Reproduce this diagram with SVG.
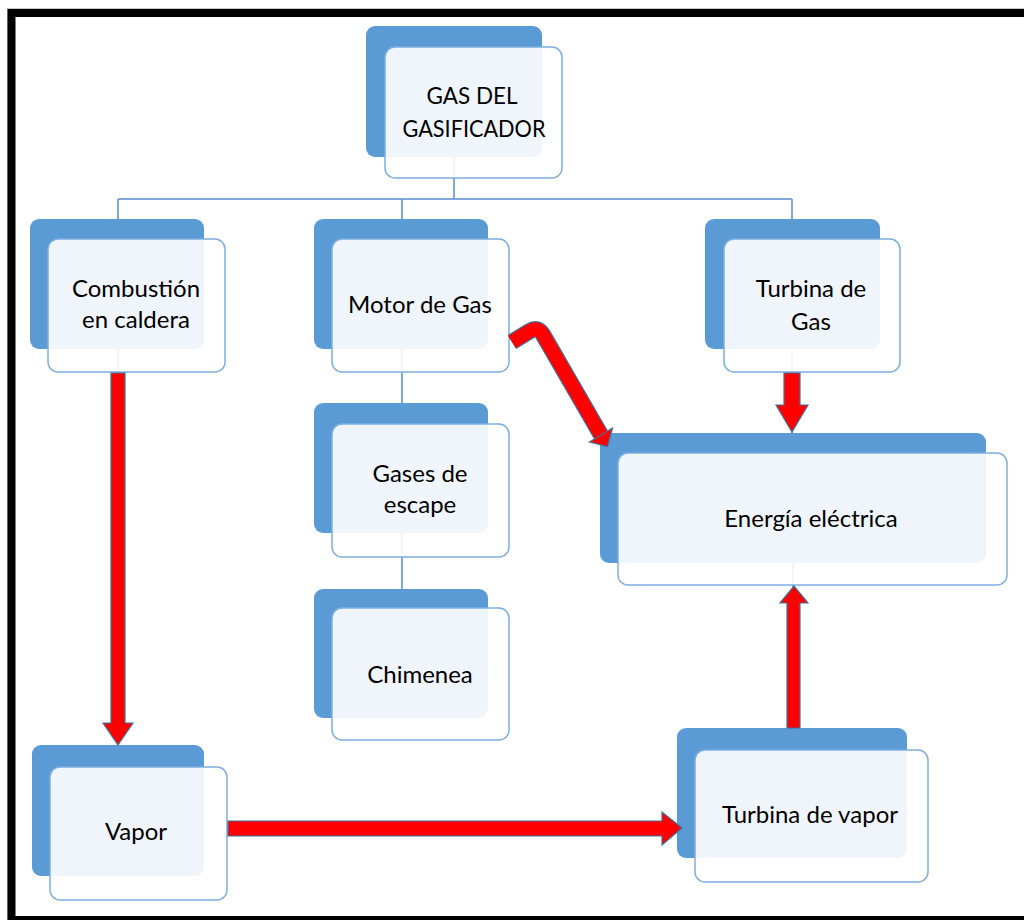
<svg xmlns="http://www.w3.org/2000/svg" width="1024" height="920" viewBox="0 0 1024 920">
  <style>
    .back { fill: #5b9bd5; }
    .front { fill: #ffffff; fill-opacity: 0.9; stroke: #7eaee0; stroke-width: 1.5; }
    .label { font-family: Lato, "Open Sans", "Liberation Sans", sans-serif; font-size: 24px; fill: #000000; text-anchor: middle; }
    .link { fill: none; stroke: #5b8fc9; stroke-width: 1.5; }
    .flow { fill: #ff0000; stroke: #41719c; stroke-width: 1.2; stroke-linejoin: miter; }
  </style>

  <rect x="0" y="0" width="1024" height="920" fill="#ffffff"/>
  <!-- outer frame -->
  <rect x="7.5" y="8.5" width="1030" height="920" fill="none" stroke="#c8c8c8" stroke-width="1"/>
  <rect x="11.5" y="13" width="1030" height="907" fill="none" stroke="#000000" stroke-width="8"/>

  <!-- thin hierarchy connectors (beneath the nodes) -->
  <g id="connectors">
    <path class="link" d="M454,150 V199 M118,199 H792 M118,199 V225 M402,199 V225 M792,199 V225"/>
    <path class="link" d="M402,340 V410 M402,525 V595"/>
    <path class="link" d="M118,340 V750"/>
    <path class="link" d="M792,340 V440"/>
    <path class="link" d="M793,555 V735"/>
    <path class="link" d="M228,828 H680"/>
  </g>

  <g id="node-gas">
    <rect class="back" x="366" y="26" width="176" height="131" rx="9"/>
    <rect class="front" x="385" y="47" width="177" height="131" rx="10"/>
    <text class="label" x="472" y="104" textLength="91" lengthAdjust="spacingAndGlyphs">GAS DEL</text>
    <text class="label" x="474" y="137" textLength="143" lengthAdjust="spacingAndGlyphs">GASIFICADOR</text>
  </g>

  <g id="node-combustion">
    <rect class="back" x="30" y="219" width="174" height="130" rx="9"/>
    <rect class="front" x="48" y="239" width="177" height="133" rx="10"/>
    <text class="label" x="136" y="297">Combustión</text>
    <text class="label" x="136" y="328">en caldera</text>
  </g>

  <g id="node-motor">
    <rect class="back" x="314" y="219" width="174" height="130" rx="9"/>
    <rect class="front" x="332" y="239" width="177" height="133" rx="10"/>
    <text class="label" x="420" y="313">Motor de Gas</text>
  </g>

  <g id="node-turbina-gas">
    <rect class="back" x="705" y="219" width="175" height="130" rx="9"/>
    <rect class="front" x="724" y="239" width="176" height="133" rx="10"/>
    <text class="label" x="811" y="297">Turbina de</text>
    <text class="label" x="811" y="330">Gas</text>
  </g>

  <g id="node-gases">
    <rect class="back" x="314" y="403" width="174" height="130" rx="9"/>
    <rect class="front" x="332" y="424" width="177" height="133" rx="10"/>
    <text class="label" x="420" y="482">Gases de</text>
    <text class="label" x="420" y="513">escape</text>
  </g>

  <g id="node-chimenea">
    <rect class="back" x="314" y="589" width="174" height="129" rx="9"/>
    <rect class="front" x="332" y="608" width="177" height="132" rx="10"/>
    <text class="label" x="420" y="683">Chimenea</text>
  </g>

  <g id="node-energia">
    <rect class="back" x="600" y="433" width="386" height="130" rx="9"/>
    <rect class="front" x="618" y="453" width="389" height="132" rx="10"/>
    <text class="label" x="811" y="527">Energía eléctrica</text>
  </g>

  <g id="node-vapor">
    <rect class="back" x="32" y="745" width="172" height="131" rx="9"/>
    <rect class="front" x="50" y="767" width="177" height="133" rx="10"/>
    <text class="label" x="136" y="840">Vapor</text>
  </g>

  <g id="node-turbina-vapor">
    <rect class="back" x="677" y="728" width="230" height="130" rx="9"/>
    <rect class="front" x="695" y="750" width="233" height="132" rx="10"/>
    <text class="label" x="810" y="823">Turbina de vapor</text>
  </g>

  <!-- thick energy-flow arrows (drawn over the nodes) -->
  <g id="flow-arrows">
    <polygon class="flow" points="111,373 125,373 125,723 133,723 118,745 103,723 111,723"/>
    <polygon class="flow" points="228,821 662,821 662,812 682,828 662,845 662,836 228,836"/>
    <polygon class="flow" points="784,373 800,373 800,405 808,405 792,432 776,405 784,405"/>
    <polygon class="flow" points="787,728 800,728 800,603 808,603 794,586 780,603 787,603"/>
    <path d="M512,342 L529.5,331.2 Q538,326 543,334.7 L601,435" fill="none" stroke="#41719c" stroke-width="16.4"/>
    <path d="M512,342 L529.5,331.2 Q538,326 543,334.7 L601,435" fill="none" stroke="#ff0000" stroke-width="14"/>
    <polygon class="flow" points="612.5,428 607.5,446.5 589.5,442"/>
  </g>
</svg>
